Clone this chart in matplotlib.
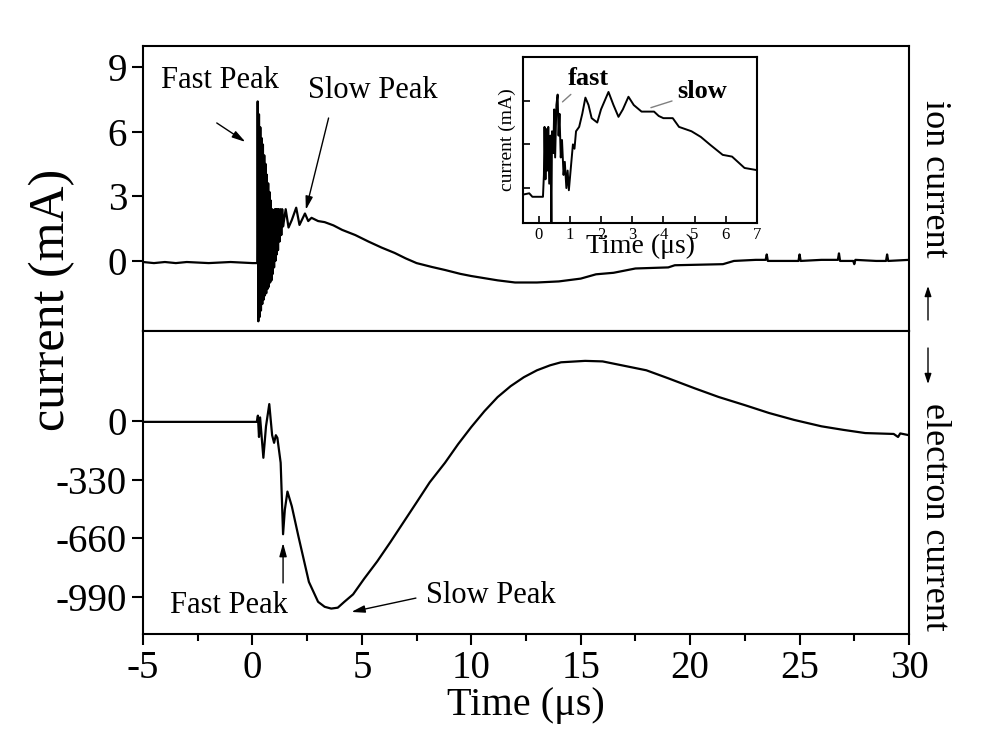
import matplotlib
matplotlib.use("Agg")
import matplotlib.pyplot as plt
from matplotlib.ticker import MultipleLocator

plt.rcParams["font.family"] = ["Liberation Serif", "DejaVu Serif"]
plt.rcParams["axes.unicode_minus"] = False

# ion current (top panel), time in us, current in mA
ion_t = [-5.0, -4.5, -4.0, -3.5, -3.0, -2.0, -1.0, 0.0, 0.22,
         0.24, 0.27, 0.30, 0.33, 0.36, 0.39, 0.42, 0.45, 0.48, 0.51,
         0.54, 0.57, 0.60, 0.63, 0.66, 0.69, 0.72, 0.75, 0.78, 0.81,
         0.84, 0.87, 0.90, 0.93, 0.96, 0.99, 1.02, 1.05, 1.08, 1.11,
         1.14, 1.17, 1.20, 1.24, 1.28, 1.32, 1.36, 1.40, 1.46, 1.52,
         1.65, 1.8, 2.0, 2.15, 2.4, 2.55, 2.7, 3.0, 3.3, 3.7, 4.1,
         4.7, 5.3, 5.9, 6.5, 7.0, 7.5, 8.2, 8.8, 9.5, 10.0, 10.6,
         11.2, 12.0, 13.0, 14.0, 15.0, 15.7, 16.5, 17.5, 19.0, 19.3,
         21.5, 22.0, 23.0, 23.45, 23.5, 23.55, 24.5, 24.95, 25.0, 25.05,
         26.0, 26.75, 26.8, 26.85, 27.45, 27.5, 27.55, 28.5, 28.95,
         29.0, 29.05, 30.0]
ion_v = [-0.05, -0.1, -0.05, -0.1, -0.05, -0.1, -0.05, -0.1, -0.1,
         7.4, -2.8, 6.8, -2.6, 6.2, -2.3, 5.7, -2.0, 5.4, -1.8,
         4.9, -1.6, 4.5, -1.5, 4.0, -1.3, 3.6, -1.2, 3.2, -1.0,
         2.8, -0.9, 2.4, -0.6, 2.3, -0.3, 2.4, 0.0, 2.4, 0.3,
         2.4, 0.5, 2.4, 0.9, 2.4, 1.2, 2.4, 1.6, 2.0, 2.4,
         1.55, 1.9, 2.47, 1.67, 2.2, 1.85, 2.0, 1.85, 1.8, 1.65, 1.44,
         1.2, 0.9, 0.62, 0.37, 0.12, -0.1, -0.28, -0.42, -0.6, -0.7, -0.8,
         -0.9, -1.0, -1.0, -0.95, -0.82, -0.62, -0.55, -0.35, -0.3, -0.2,
         -0.15, 0.0, 0.05, 0.05, 0.3, 0.0, 0.0, 0.0, 0.3, 0.0,
         0.05, 0.05, 0.35, 0.0, 0.0, -0.15, 0.05, 0.0, 0.0,
         0.3, 0.0, 0.05]

# electron current (bottom panel)
ele_t = [-5.0, 0.2, 0.25, 0.3, 0.35, 0.5, 0.62, 0.77, 0.9, 0.99, 1.07,
         1.14, 1.29, 1.4, 1.48, 1.6, 1.8, 2.1, 2.58, 3.0, 3.3, 3.6, 3.9,
         4.2, 4.6, 5.1, 5.7, 6.3, 6.9, 7.5, 8.1, 8.8, 9.4, 10.0, 10.6,
         11.2, 11.8, 12.4, 13.0, 13.6, 14.1, 15.2, 16.0, 17.0, 18.0,
         19.0, 20.2, 21.3, 22.5, 23.6, 24.75, 26.0, 27.0, 28.0, 29.3,
         29.5, 29.6, 30.0]
ele_v = [-5, -5, 30, -90, 20, -207, -30, 95, -80, -123, -80,
         -95, -235, -637, -500, -397, -480, -648, -905, -1017, -1045, -1055, -1050,
         -1017, -975, -888, -790, -682, -570, -458, -345, -235, -130, -34, 55,
         134, 196, 246, 285, 313, 330, 338, 335, 310, 285,
         240, 184, 135, 89, 45, 6, -30, -50, -68, -73,
         -90, -70, -80]

# inset: early ion current
ins_t = [-0.5, -0.3, -0.2, 0.14, 0.17, 0.19, 0.22, 0.25, 0.28, 0.31, 0.34,
         0.38, 0.41, 0.43, 0.47, 0.5, 0.53, 0.57, 0.61, 0.64, 0.67, 0.71,
         0.75, 0.8, 0.84, 0.89, 0.93, 0.97, 1.05, 1.1, 1.15, 1.2, 1.3, 1.4,
         1.5, 1.6, 1.7, 1.88, 2.0, 2.24, 2.4, 2.56, 2.7, 2.88, 3.05, 3.3,
         3.7, 3.85, 4.0, 4.3, 4.5, 4.9, 5.2, 5.5, 5.9, 6.2, 6.6, 7.0]
ins_v = [-0.15, -0.12, -0.2, -0.2, 0.3, 1.4, 0.2, 1.35, 0.4, 1.4, 0.1,
         1.2, -0.9, 1.3, 0.8, 1.8, 0.7, 1.9, 2.14, 1.2, 1.7, 0.7,
         1.1, 0.3, 0.6, 0.0, 0.4, -0.05, 0.6, 1.0, 0.9, 1.3, 1.4, 1.7,
         2.07, 1.9, 1.6, 1.5, 1.8, 2.2, 1.9, 1.63, 1.8, 2.09, 1.9, 1.75,
         1.75, 1.65, 1.6, 1.6, 1.4, 1.3, 1.17, 0.99, 0.76, 0.72, 0.46, 0.41]

W, H = 993, 733
fig = plt.figure(figsize=(W / 100, H / 100), dpi=100)


def box(l, t, r, b):
    return [l / W, 1 - b / H, (r - l) / W, (b - t) / H]


ax1 = fig.add_axes(box(143, 46, 909, 331))
ax2 = fig.add_axes(box(143, 331, 909, 634), sharex=ax1)
axi = fig.add_axes(box(523, 57, 757, 223))

lw = 1.6
ax1.plot(ion_t, ion_v, color="black", lw=lw)
ax2.plot(ele_t, ele_v, color="black", lw=lw)
axi.plot(ins_t, ins_v, color="black", lw=1.4)

for ax in (ax1, ax2, axi):
    for s in ax.spines.values():
        s.set_linewidth(1.5)

ax1.set_xlim(-5, 30)
ax1.set_ylim(-3.25, 9.97)
ax1.set_yticks([0, 3, 6, 9])
ax1.tick_params(axis="y", direction="out", length=8, width=1.5, labelsize=28)
ax1.tick_params(axis="x", which="both", bottom=False, labelbottom=False)

ax2.set_ylim(-1198, 506)
ax2.set_yticks([0, -330, -660, -990])
ax2.xaxis.set_major_locator(MultipleLocator(5))
ax2.xaxis.set_minor_locator(MultipleLocator(2.5))
ax2.tick_params(axis="both", which="major", direction="out", length=8,
                width=1.5, labelsize=28)
ax2.tick_params(axis="x", which="minor", direction="out", length=5, width=1.5)
ax2.set_xlabel("Time (μs)", fontsize=29, labelpad=0)
fig.text(52 / W, 1 - 300 / H, "current (mA)", rotation=90, fontsize=36,
         ha="center", va="center")

# inset
axi.set_xlim(-0.5, 7)
axi.set_ylim(-0.8, 3.0)
axi.set_xticks(range(0, 8))
axi.set_yticks([0, 1, 2])
axi.set_yticklabels([])
axi.tick_params(direction="in", length=5, width=1.2, labelsize=12, pad=3)
axi.set_xlabel("Time (μs)", fontsize=20, labelpad=-7)
axi.set_ylabel("current (mA)", fontsize=14, labelpad=2)
axi.annotate("fast", xy=(0.70, 1.93), xytext=(0.95, 2.25), fontsize=19,
             fontweight="bold", ha="left", va="bottom",
             arrowprops=dict(arrowstyle="-", color="gray", lw=1))
axi.annotate("slow", xy=(3.6, 1.84), xytext=(4.45, 1.95), fontsize=19,
             fontweight="bold", ha="left", va="bottom",
             arrowprops=dict(arrowstyle="-", color="gray", lw=1,
                             shrinkB=0))

arrow = dict(arrowstyle="-|>,head_length=0.8,head_width=0.22", color="black",
             lw=1, shrinkA=0, shrinkB=0)
ax1.text(-4.2, 8.0, "Fast Peak", fontsize=22)
ax1.annotate("", xy=(-0.32, 5.52), xytext=(-1.63, 6.4), arrowprops=arrow)
ax1.text(2.53, 7.56, "Slow Peak", fontsize=22)
ax1.annotate("", xy=(2.44, 2.37), xytext=(3.48, 6.63), arrowprops=arrow)

ax2.text(-3.76, -1080, "Fast Peak", fontsize=22)
ax2.annotate("", xy=(1.40, -686), xytext=(1.40, -911), arrowprops=arrow)
ax2.text(7.92, -1024, "Slow Peak", fontsize=22)
ax2.annotate("", xy=(4.52, -1074), xytext=(7.47, -996), arrowprops=arrow)

# right side labels
fig.text(935 / W, 1 - 179 / H, "ion current", rotation=270, fontsize=26,
         ha="center", va="center")
fig.text(935 / W, 1 - 517 / H, "electron current", rotation=270, fontsize=26,
         ha="center", va="center")
small = dict(arrowstyle="-|>,head_length=0.6,head_width=0.2", color="black",
             lw=1, shrinkA=0, shrinkB=0)
ax1.annotate("", xy=(928, H - 286), xytext=(928, H - 320),
             xycoords="figure pixels", textcoords="figure pixels",
             arrowprops=small, annotation_clip=False)
ax1.annotate("", xy=(928, H - 384), xytext=(928, H - 348),
             xycoords="figure pixels", textcoords="figure pixels",
             arrowprops=small, annotation_clip=False)

fig.savefig("out.png", dpi=100)
